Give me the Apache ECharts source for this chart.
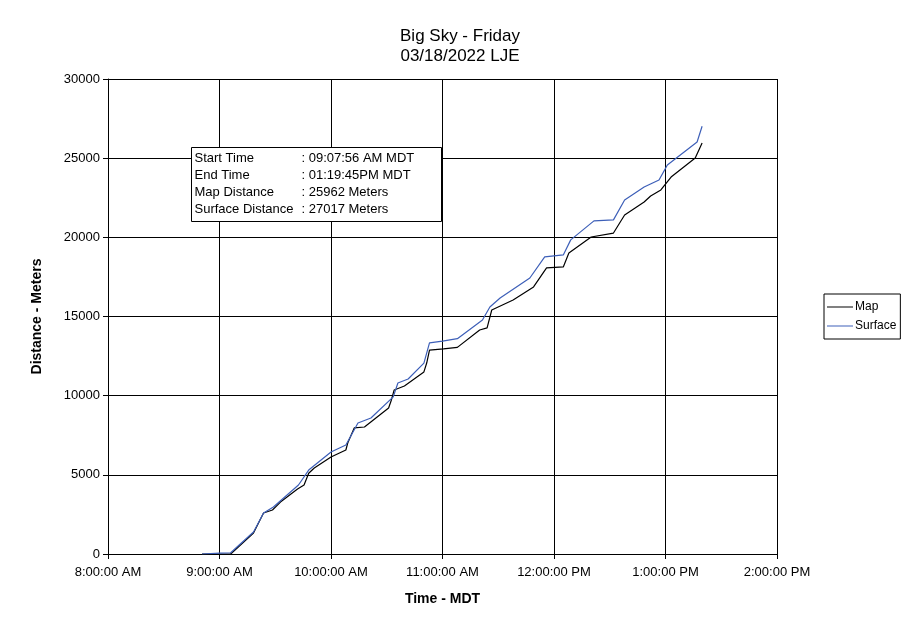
<!DOCTYPE html>
<html>
<head>
<meta charset="utf-8">
<title>Big Sky - Friday</title>
<script src="https://cdn.jsdelivr.net/npm/echarts@6/dist/echarts.min.js"></script>
<style>
    html, body { margin: 0; padding: 0; background: #fff; }
    #chart { width: 911px; height: 623px; }
</style>
</head>
<body>
<div id="chart"></div>
<script>
// times are minutes after midnight
var mapTimes = [530.6, 546, 558.3, 563.7, 568.5, 572.8, 582, 585.5, 588, 591, 600, 608, 609, 612.5, 618,
    631, 632.5, 634, 639.5, 650, 651.5, 653, 660.5, 668, 680, 684, 686.5, 698, 709, 716, 725, 728,
    740, 752, 758, 768.5, 772, 777.5, 783, 796, 799.7];
var mapValues = [0, 0, 1330, 2590, 2780, 3280, 4100, 4360, 5100, 5430, 6130, 6570, 7010, 7960, 8020,
    9220, 9730, 10360, 10610, 11500, 12060, 12880, 12950, 13050, 14150, 14280, 15410, 16040, 16870, 18070, 18130, 19010,
    20020, 20270, 21410, 22230, 22610, 22990, 23810, 25010, 25962];

var surfaceTimes = [530.6, 540, 546, 558.3, 563.7, 569, 582.5, 588, 600, 608, 614.5, 621.5, 633.5, 636, 641.5,
    650, 653, 660, 668, 681.5, 685.5, 691, 707, 715, 725, 729, 741.5, 752, 758, 768.5, 776.5, 781, 797, 799.7];
var surfaceValues = [0, 60, 80, 1390, 2590, 2970, 4360, 5300, 6440, 6880, 8270, 8590, 9920, 10800, 11050,
    12060, 13330, 13450, 13600, 14780, 15600, 16170, 17430, 18760, 18890, 19840, 21040, 21100, 22360, 23180, 23620, 24570, 26020, 27017];

var infoLabels = ['Start Time', 'End Time', 'Map Distance', 'Surface Distance'];
var infoValues = [': 09:07:56 AM MDT', ': 01:19:45PM MDT', ': 25962 Meters', ': 27017 Meters'];

function pairs(xs, ys) {
    return xs.map(function(x, i) { return [x, ys[i]]; });
}

function timeLabel(v) {
    var h = Math.floor(v / 60);
    var ap = h >= 12 ? 'PM' : 'AM';
    var h12 = h % 12 === 0 ? 12 : h % 12;
    return h12 + ':00:00 ' + ap;
}

var font = 'Liberation Sans, Arial, sans-serif';
var chart = echarts.init(document.getElementById('chart'));

var option = {
    animation: false,
    textStyle: { fontFamily: font },
    title: {
        text: 'Big Sky - Friday\n03/18/2022 LJE',
        left: 455,
        textAlign: 'center',
        top: 21,
        textStyle: { fontFamily: font, fontSize: 17, fontWeight: 'normal', color: '#000', lineHeight: 20 }
    },
    grid: { left: 108, right: 134, top: 79, bottom: 69 },
    legend: {
        orient: 'vertical',
        left: 824,
        top: 294,
        padding: [7, 4, 7, 3],
        itemGap: 7,
        itemWidth: 26,
        itemHeight: 1,
        borderColor: '#000',
        borderWidth: 1,
        borderRadius: 0,
        textStyle: { fontFamily: font, fontSize: 12, color: '#000', padding: [0, 0, 0, -3] },
        data: [
            { name: 'Map', icon: 'rect' },
            { name: 'Surface', icon: 'rect' }
        ]
    },
    xAxis: {
        type: 'value',
        min: 480,
        max: 840,
        interval: 60,
        name: 'Time - MDT',
        nameLocation: 'middle',
        nameGap: 38,
        nameTextStyle: { fontFamily: font, fontSize: 14, fontWeight: 'bold', color: '#000' },
        axisLine: { onZero: false, lineStyle: { color: '#000', width: 1 } },
        axisTick: { show: true, length: 5, lineStyle: { color: '#000' } },
        axisLabel: { color: '#000', fontSize: 13, margin: 12, formatter: timeLabel },
        splitLine: { show: true, lineStyle: { color: '#000', width: 1 } }
    },
    yAxis: {
        type: 'value',
        min: 0,
        max: 30000,
        interval: 5000,
        name: 'Distance - Meters',
        nameLocation: 'middle',
        nameGap: 64,
        nameTextStyle: { fontFamily: font, fontSize: 14, fontWeight: 'bold', color: '#000' },
        axisLine: { show: true, lineStyle: { color: '#000', width: 1 } },
        axisTick: { show: true, length: 5, lineStyle: { color: '#000' } },
        axisLabel: { color: '#000', fontSize: 13, margin: 8, formatter: function(v) { return String(v); } },
        splitLine: { show: true, lineStyle: { color: '#000', width: 1 } }
    },
    graphic: [
        {
            type: 'group',
            left: 191,
            top: 147,
            z: 100,
            children: [
                {
                    type: 'rect',
                    z: 100,
                    shape: { x: 0, y: 0, width: 250, height: 74 },
                    style: { fill: '#fff', stroke: '#000', lineWidth: 1 }
                },
                {
                    type: 'text',
                    z: 101,
                    x: 3,
                    y: 2,
                    style: { text: infoLabels.join('\n'), font: '13px ' + font, fill: '#000', lineHeight: 17 }
                },
                {
                    type: 'text',
                    z: 101,
                    x: 110,
                    y: 2,
                    style: { text: infoValues.join('\n'), font: '13px ' + font, fill: '#000', lineHeight: 17 }
                }
            ]
        }
    ],
    series: [
        {
            name: 'Map',
            type: 'line',
            symbol: 'none',
            color: '#000000',
            lineStyle: { width: 1.2, color: '#000000' },
            data: pairs(mapTimes, mapValues)
        },
        {
            name: 'Surface',
            type: 'line',
            symbol: 'none',
            color: '#3d5fb8',
            lineStyle: { width: 1.2, color: '#3d5fb8' },
            data: pairs(surfaceTimes, surfaceValues)
        }
    ]
};

chart.setOption(option);
window.onresize = function() {
    chart.resize();
};
</script>
</body>
</html>
